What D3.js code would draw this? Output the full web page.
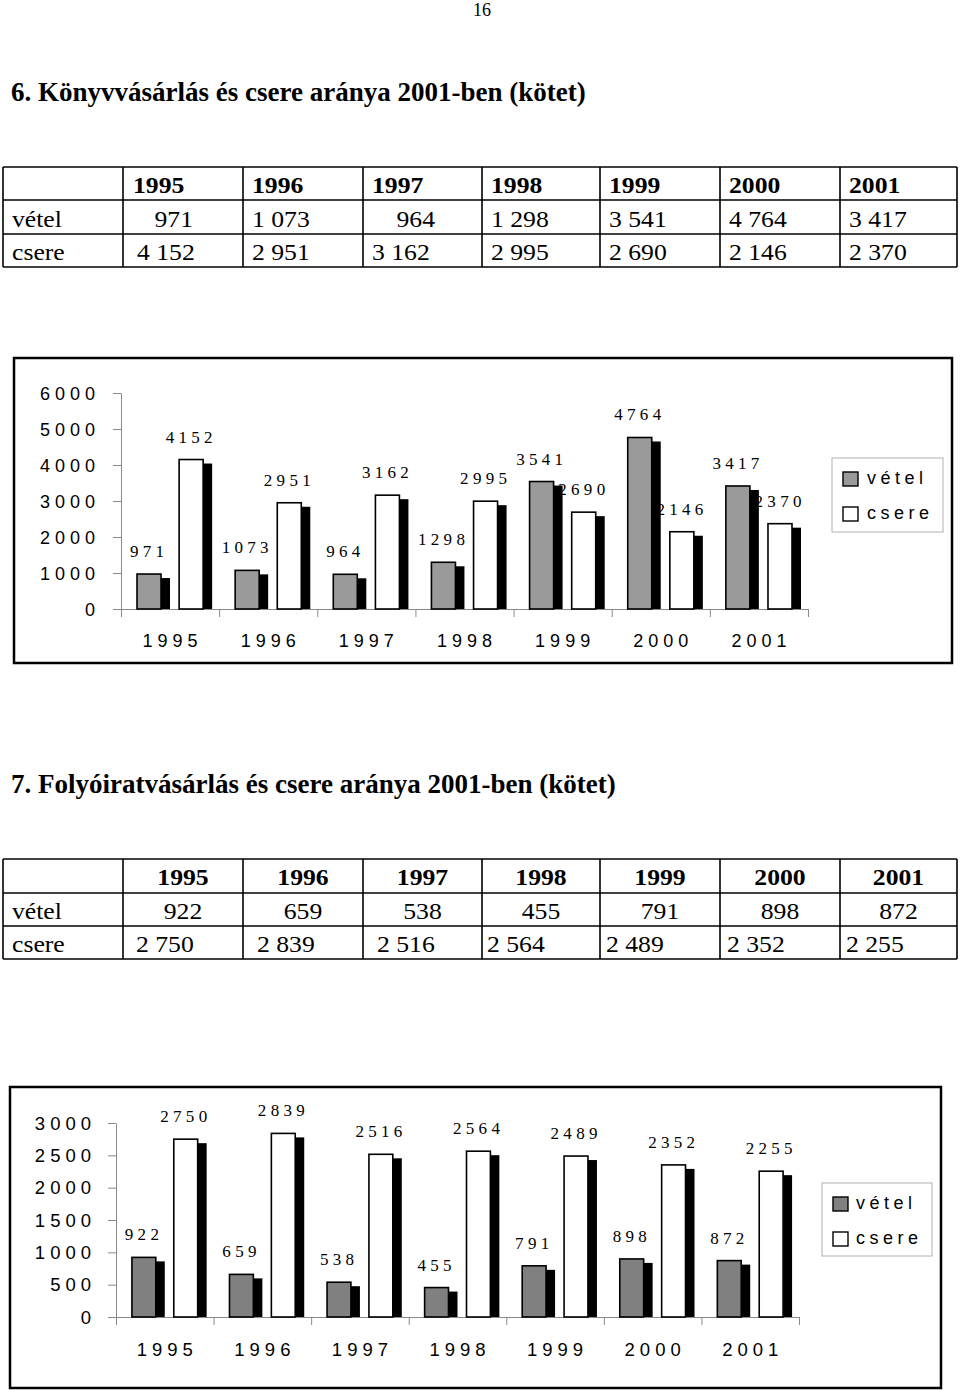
<!DOCTYPE html>
<html>
<head>
<meta charset="utf-8">
<script src="https://cdn.jsdelivr.net/npm/d3@7"></script>
<style>
  html, body { margin: 0; padding: 0; background: #fff; }
  svg { display: block; }
</style>
</head>
<body>
<script>
// ---------------- DATA ----------------
const years = ["1995", "1996", "1997", "1998", "1999", "2000", "2001"];
const seriesNames = ["vétel", "csere"];

const title1 = "6. Könyvvásárlás és csere aránya 2001-ben (kötet)";
const booksVetel = [971, 1073, 964, 1298, 3541, 4764, 3417];
const booksCsere = [4152, 2951, 3162, 2995, 2690, 2146, 2370];
const booksTicks = [0, 1000, 2000, 3000, 4000, 5000, 6000];

const title2 = "7. Folyóiratvásárlás és csere aránya 2001-ben (kötet)";
const journalsVetel = [922, 659, 538, 455, 791, 898, 872];
const journalsCsere = [2750, 2839, 2516, 2564, 2489, 2352, 2255];
const journalsTicks = [0, 500, 1000, 1500, 2000, 2500, 3000];

const pageNumber = "16";

// ---------------- SETUP ----------------
const W = 960, H = 1390;
const svg = d3.select("body").append("svg").attr("width", W).attr("height", H);
const SERIF = "'Liberation Serif', 'Times New Roman', serif";
const SANS = "'Liberation Sans', Arial, sans-serif";
const huFmt = d3.formatLocale({ decimal: ",", thousands: " ", grouping: [3], currency: ["", ""] }).format(",d");

// page number
svg.append("text").attr("x", 482).attr("y", 16).attr("text-anchor", "middle")
  .attr("font-family", SERIF).attr("font-size", 18).text(pageNumber);

// titles
function title(txt, y) {
  svg.append("text").attr("x", 11).attr("y", y)
    .attr("font-family", SERIF).attr("font-weight", "bold").attr("font-size", 27).text(txt);
}
title(title1, 101);
title(title2, 793);

// ---------------- TABLES ----------------
const colX = [3, 123, 243, 363, 482, 600, 720, 840, 957];
function cellText(x, y, txt, anchor, bold) {
  svg.append("text")
    .attr("transform", `translate(${x},${y}) scale(1.07,1)`)
    .attr("text-anchor", anchor)
    .attr("font-family", SERIF).attr("font-size", 24)
    .attr("font-weight", bold ? "bold" : "normal")
    .text(txt);
}
function tableGrid(rowsY) {
  const g = svg.append("g").attr("stroke", "#000").attr("stroke-width", 1.6);
  rowsY.forEach(y => g.append("line").attr("x1", colX[0]).attr("x2", colX[colX.length - 1]).attr("y1", y).attr("y2", y));
  colX.forEach(x => g.append("line").attr("x1", x).attr("x2", x).attr("y1", rowsY[0]).attr("y2", rowsY[rowsY.length - 1]));
}

// table 1 (left aligned mostly)
const t1Rows = [167, 200, 234, 267];
const t1Base = [193, 227, 260];
tableGrid(t1Rows);
cellText(12, t1Base[1], seriesNames[0], "start", false);
cellText(12, t1Base[2], seriesNames[1], "start", false);
years.forEach((yr, i) => {
  const c = colX[i + 1];
  cellText(c + (i === 0 ? 10 : 9), t1Base[0], yr, "start", true);
  // vétel
  if (booksVetel[i] < 1000) cellText(c + (i === 0 ? 70 : 72), t1Base[1], huFmt(booksVetel[i]), "end", false);
  else cellText(c + 9, t1Base[1], huFmt(booksVetel[i]), "start", false);
  // csere
  cellText(c + (i === 0 ? 14 : 9), t1Base[2], huFmt(booksCsere[i]), "start", false);
});

// table 2 (header + vétel centred, csere left)
const t2Rows = [859, 893, 926, 959];
const t2Base = [885, 919, 952];
const t2CserePad = [13, 14, 14, 5, 6, 7, 6];
tableGrid(t2Rows);
cellText(12, t2Base[1], seriesNames[0], "start", false);
cellText(12, t2Base[2], seriesNames[1], "start", false);
years.forEach((yr, i) => {
  const c = colX[i + 1], cc = (colX[i + 1] + colX[i + 2]) / 2;
  cellText(cc, t2Base[0], yr, "middle", true);
  cellText(cc, t2Base[1], huFmt(journalsVetel[i]), "middle", false);
  cellText(c + t2CserePad[i], t2Base[2], huFmt(journalsCsere[i]), "start", false);
});

// ---------------- CHARTS ----------------
function drawChart(cfg) {
  const g = svg.append("g");
  // frame
  g.append("rect").attr("x", cfg.box[0]).attr("y", cfg.box[1])
    .attr("width", cfg.box[2] - cfg.box[0]).attr("height", cfg.box[3] - cfg.box[1])
    .attr("fill", "#fff").attr("stroke", "#000").attr("stroke-width", 2.5);

  const x = d3.scaleBand().domain(years).range([cfg.x0, cfg.x1]).padding(0);
  const xs = d3.scaleBand().domain(seriesNames).range([0, x.bandwidth()])
    .paddingInner(0.43).paddingOuter(0.38);
  const y = d3.scaleLinear().domain([0, d3.max(cfg.ticks)]).range([cfg.yBase, cfg.yTop]);
  const xi = d3.scaleLinear().domain([0, years.length]).range([cfg.x0, cfg.x1]);

  // y axis
  const gy = g.append("g").attr("transform", `translate(${cfg.x0},0)`)
    .call(d3.axisLeft(y).tickValues(cfg.ticks).tickSize(8).tickSizeOuter(0).tickFormat(""));
  gy.selectAll("path,line").attr("stroke", "#8a8a8a").attr("stroke-width", 1);

  // x axis
  const gx = g.append("g").attr("transform", `translate(0,${cfg.yBase})`)
    .call(d3.axisBottom(xi).tickValues(d3.range(0, years.length + 1)).tickSize(8).tickSizeOuter(0).tickFormat(""));
  gx.selectAll("path,line").attr("stroke", "#8a8a8a").attr("stroke-width", 1);

  // y tick labels
  const yls = 5;
  g.append("g").selectAll("text").data(cfg.ticks).join("text")
    .attr("x", cfg.yLabelRight + yls).attr("y", d => y(d) + 6.5)
    .attr("text-anchor", "end").attr("font-family", SANS).attr("font-size", cfg.axisFont)
    .attr("letter-spacing", yls).attr("fill", "#000").text(d => d);

  // x tick labels
  g.append("g").selectAll("text").data(years).join("text")
    .attr("x", d => x(d) + x.bandwidth() / 2 + yls / 2).attr("y", cfg.xLabelY)
    .attr("text-anchor", "middle").attr("font-family", SANS).attr("font-size", cfg.axisFont)
    .attr("letter-spacing", yls).attr("fill", "#000").text(d => d);

  // bars
  const rows = [];
  years.forEach((yr, i) => {
    rows.push({ yr, s: seriesNames[0], v: cfg.vetel[i] });
    rows.push({ yr, s: seriesNames[1], v: cfg.csere[i] });
  });
  const fill = { "vétel": cfg.gray, "csere": "#fff" };
  const sh = 9, shY = 4;
  const bars = g.append("g").selectAll("g").data(rows).join("g");
  bars.append("rect")
    .attr("x", d => x(d.yr) + xs(d.s) + sh).attr("y", d => y(d.v) + shY)
    .attr("width", xs.bandwidth()).attr("height", d => cfg.yBase - y(d.v) - shY)
    .attr("fill", "#000");
  bars.append("rect")
    .attr("x", d => x(d.yr) + xs(d.s)).attr("y", d => y(d.v))
    .attr("width", xs.bandwidth()).attr("height", d => cfg.yBase - y(d.v))
    .attr("fill", d => fill[d.s]).attr("stroke", "#000").attr("stroke-width", 1.6);

  // value labels
  const lls = 4.3;
  g.append("g").selectAll("text").data(rows).join("text")
    .attr("x", d => x(d.yr) + xs(d.s) + xs.bandwidth() / 2 - 2 + lls / 2)
    .attr("y", d => y(d.v) - 17)
    .attr("text-anchor", "middle").attr("font-family", SERIF).attr("font-size", 17)
    .attr("letter-spacing", lls).attr("fill", "#000").text(d => d.v);

  // legend
  const L = cfg.legend;
  g.append("rect").attr("x", L.box[0]).attr("y", L.box[1])
    .attr("width", L.box[2] - L.box[0]).attr("height", L.box[3] - L.box[1])
    .attr("fill", "#fff").attr("stroke", "#b0b0b0").attr("stroke-width", 1);
  const li = g.append("g").selectAll("g").data(seriesNames).join("g")
    .attr("transform", (d, i) => `translate(${L.sx},${L.sy[i]})`);
  li.append("rect").attr("x", 0).attr("y", 0).attr("width", 15).attr("height", 14)
    .attr("fill", d => fill[d]).attr("stroke", "#000").attr("stroke-width", 1.4);
  li.append("text").attr("x", L.tx - L.sx).attr("y", 12)
    .attr("font-family", SANS).attr("font-size", 18).attr("letter-spacing", 4.5)
    .attr("fill", "#000").text(d => d);
}

drawChart({
  box: [14, 358, 952, 663],
  x0: 121, x1: 808, yBase: 609, yTop: 393,
  ticks: booksTicks, vetel: booksVetel, csere: booksCsere,
  gray: "#9a9a9a", axisFont: 18, yLabelRight: 95, xLabelY: 647,
  legend: { box: [832, 458, 943, 532], sx: 843, sy: [472, 507], tx: 867 }
});

drawChart({
  box: [10, 1087, 941, 1388],
  x0: 116, x1: 799, yBase: 1317, yTop: 1123,
  ticks: journalsTicks, vetel: journalsVetel, csere: journalsCsere,
  gray: "#808080", axisFont: 18.5, yLabelRight: 91, xLabelY: 1356,
  legend: { box: [822, 1183, 932, 1256], sx: 833, sy: [1197, 1232], tx: 856 }
});
</script>
</body>
</html>
